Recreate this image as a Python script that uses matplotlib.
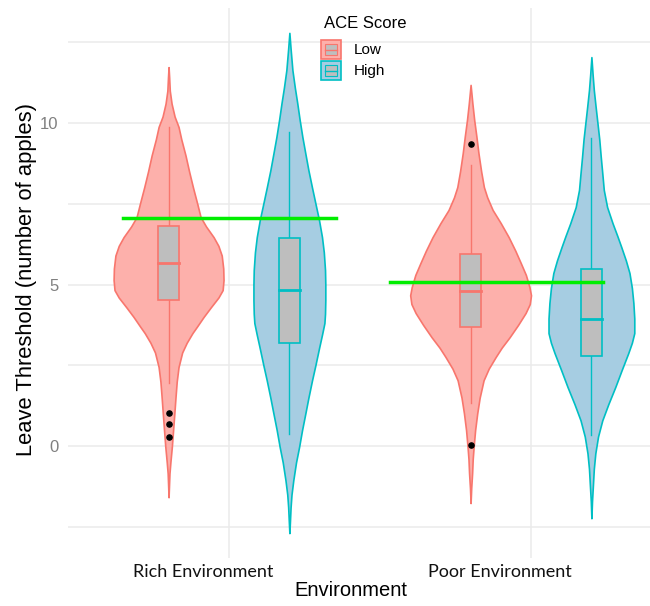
import numpy as np
import matplotlib
matplotlib.use('Agg')
import matplotlib.pyplot as plt
from matplotlib.patches import Rectangle

# categories and groups
environments = ['Rich Environment', 'Poor Environment']
groups = ['Low', 'High']

# violin outlines: value, half width (category units)
rich_low_y = [11.73, 11.4, 11.0, 10.6, 10.2, 9.88, 9.5, 9.0, 8.5, 8.0, 7.5, 7.09, 6.8, 6.47, 6.2,
              5.9, 5.5, 5.14, 4.83, 4.6, 4.3, 4.0, 3.7, 3.5, 3.2, 2.9, 2.45, 2.0, 1.52, 1.0,
              0.5, 0.0, -0.5, -0.84, -1.2, -1.58]
rich_low_w = [0.0, 0.002, 0.004, 0.010, 0.020, 0.033, 0.042, 0.056, 0.068, 0.081, 0.095, 0.106,
              0.124, 0.149, 0.165, 0.176, 0.181, 0.182, 0.179, 0.165, 0.140, 0.116, 0.094, 0.079,
              0.060, 0.045, 0.033, 0.027, 0.023, 0.019, 0.015, 0.011, 0.006, 0.003, 0.0015, 0.0]
rich_high_y = [12.79, 12.3, 11.64, 11.1, 10.62, 10.1, 9.57, 9.05, 8.54, 8.0, 7.52, 7.0, 6.47, 6.0,
               5.45, 5.0, 4.52, 4.1, 3.81, 3.45, 3.07, 2.5, 2.04, 1.5, 1.02, 0.5, -0.03, -0.5,
               -1.05, -1.5, -1.89, -2.3, -2.69]
rich_high_w = [0.0, 0.004, 0.010, 0.018, 0.026, 0.034, 0.043, 0.053, 0.063, 0.075, 0.086, 0.098,
               0.108, 0.114, 0.118, 0.119, 0.119, 0.118, 0.116, 0.108, 0.099, 0.086, 0.075, 0.063,
               0.053, 0.042, 0.032, 0.022, 0.013, 0.007, 0.004, 0.002, 0.0]
poor_low_y = [11.18, 10.6, 10.09, 9.6, 9.07, 8.5, 8.02, 7.7, 7.31, 6.9, 6.47, 6.05, 5.67, 5.3,
              4.92, 4.67, 4.4, 4.12, 3.75, 3.37, 3.05, 2.76, 2.4, 2.04, 1.5, 1.02, 0.5, -0.03,
              -0.4, -0.84, -1.3, -1.76]
poor_low_w = [0.0, 0.006, 0.012, 0.019, 0.026, 0.035, 0.044, 0.055, 0.073, 0.100, 0.126, 0.148,
              0.166, 0.183, 0.195, 0.200, 0.196, 0.182, 0.157, 0.129, 0.103, 0.083, 0.060, 0.043,
              0.030, 0.022, 0.015, 0.010, 0.007, 0.005, 0.002, 0.0]
poor_high_y = [12.04, 11.5, 11.02, 10.5, 10.0, 9.5, 8.95, 8.45, 7.93, 7.4, 6.90, 6.5, 6.16, 5.75,
               5.36, 4.9, 4.43, 3.95, 3.50, 3.2, 2.88, 2.35, 1.83, 1.3, 0.80, 0.3, -0.22, -0.7,
               -1.21, -1.7, -2.23]
poor_high_w = [0.0, 0.004, 0.008, 0.014, 0.020, 0.026, 0.031, 0.036, 0.041, 0.052, 0.070, 0.086,
               0.099, 0.114, 0.126, 0.134, 0.139, 0.142, 0.142, 0.134, 0.122, 0.100, 0.079, 0.056,
               0.036, 0.022, 0.013, 0.008, 0.005, 0.002, 0.0]

# box stats: whisker low, q1, median, q3, whisker high
rich_low_box = [1.95, 4.52, 5.66, 6.81, 9.88]
rich_high_box = [0.37, 3.19, 4.83, 6.44, 9.72]
poor_low_box = [1.33, 3.68, 4.80, 5.94, 8.70]
poor_high_box = [0.34, 2.79, 3.93, 5.48, 9.54]

rich_low_out = [1.02, 0.68, 0.28]
poor_low_out = [9.35, 0.03]

# green reference lines: value, start, end
green_vals = [7.06, 5.08]
green_start = [0.649, 1.533]
green_end = [1.354, 2.238]

edge_cols = {'Low': '#F8766D', 'High': '#00BFC4'}
fill_cols = {'Low': '#FDB0AB', 'High': '#A6CDE2'}

W, H = 650, 606
fig = plt.figure(figsize=(W / 100, H / 100), dpi=100)
ax = fig.add_axes([68 / W, 1 - 558 / H, 1 - 68 / W, 550 / H])

violins = {
    (0, 'Low'): (rich_low_y, rich_low_w, rich_low_box, rich_low_out),
    (0, 'High'): (rich_high_y, rich_high_w, rich_high_box, []),
    (1, 'Low'): (poor_low_y, poor_low_w, poor_low_box, poor_low_out),
    (1, 'High'): (poor_high_y, poor_high_w, poor_high_box, []),
}
dodge = {'Low': -0.2, 'High': 0.2}

for (i, g), (vy, vw, box, outs) in violins.items():
    xc = i + 1 + dodge[g]
    vy = np.array(vy); vw = np.array(vw)
    ax.fill_betweenx(vy, xc - vw, xc + vw, facecolor=fill_cols[g],
                     edgecolor=edge_cols[g], lw=1.2, zorder=2)
    lo, q1, med, q3, hi = box
    bw = 0.035
    ax.plot([xc, xc], [lo, q1], color=edge_cols[g], lw=1, zorder=3)
    ax.plot([xc, xc], [q3, hi], color=edge_cols[g], lw=1, zorder=3)
    ax.add_patch(Rectangle((xc - bw, q1), 2 * bw, q3 - q1, facecolor='#BEBEBE',
                           edgecolor=edge_cols[g], lw=1.2, zorder=3))
    ax.plot([xc - bw, xc + bw], [med, med], color=edge_cols[g], lw=2, zorder=4)
    if outs:
        ax.scatter([xc] * len(outs), outs, s=14, color='black', zorder=5)

for v, s, e in zip(green_vals, green_start, green_end):
    ax.plot([s, e], [v, v], color='#00EE00', lw=2.5, zorder=6)

ax.set_xlim(0.467, 2.394)
ax.set_ylim(-3.46, 13.56)
ax.set_yticks([0, 5, 10])
ax.set_yticks([-2.5, 2.5, 7.5, 12.5], minor=True)
ax.set_xticks([1, 2])
ax.set_xticklabels([])
ax.tick_params(axis='both', which='both', length=0)
ax.tick_params(axis='y', labelsize=12, labelcolor='#808080', pad=7)
for lab in ax.get_yticklabels():
    lab.set_family('Liberation Sans')
ax.grid(which='both', color='#EBEBEB', lw=1.1, zorder=0)
ax.set_axisbelow(True)
for sp in ax.spines.values():
    sp.set_visible(False)

# category labels (placed a little left of the grid lines, as in the picture)
for env, px in zip(environments, [203, 500]):
    fig.text(px / W, 1 - 572 / H, env, ha='center', va='center', fontsize=13,
             family='Lato', color='#111111')
fig.text(351 / W, 1 - 590 / H, 'Environment', ha='center', va='center',
         fontsize=14.5, family='Liberation Sans')
fig.text(27 / W, 1 - 280 / H, 'Leave Threshold (number of apples)',
         rotation=90, ha='center', va='center', fontsize=15.8, family='Liberation Sans')

# legend
fig.text(365 / W, 1 - 23 / H, 'ACE Score', ha='center', va='center',
         fontsize=12, family='Liberation Sans')
for k, g in enumerate(groups):
    top = 40 + k * 21
    kx, ky = 321 / W, 1 - (top + 19) / H
    kw, kh = 20 / W, 19 / H
    fig.patches.append(Rectangle((kx, ky), kw, kh, transform=fig.transFigure,
                                 facecolor=fill_cols[g], edgecolor=edge_cols[g], lw=1.2))
    fig.patches.append(Rectangle((kx + 4 / W, ky + 4 / H), 12 / W, 11 / H,
                                 transform=fig.transFigure, facecolor='#BEBEBE',
                                 edgecolor=edge_cols[g], lw=0.8))
    fig.lines.append(plt.Line2D([kx + 4 / W, kx + 16 / W], [ky + kh / 2, ky + kh / 2],
                                transform=fig.transFigure, color=edge_cols[g], lw=1))
    fig.text(354 / W, ky + kh / 2, g, ha='left', va='center', fontsize=11,
             family='Liberation Sans')

plt.savefig('out.png', dpi=100)
